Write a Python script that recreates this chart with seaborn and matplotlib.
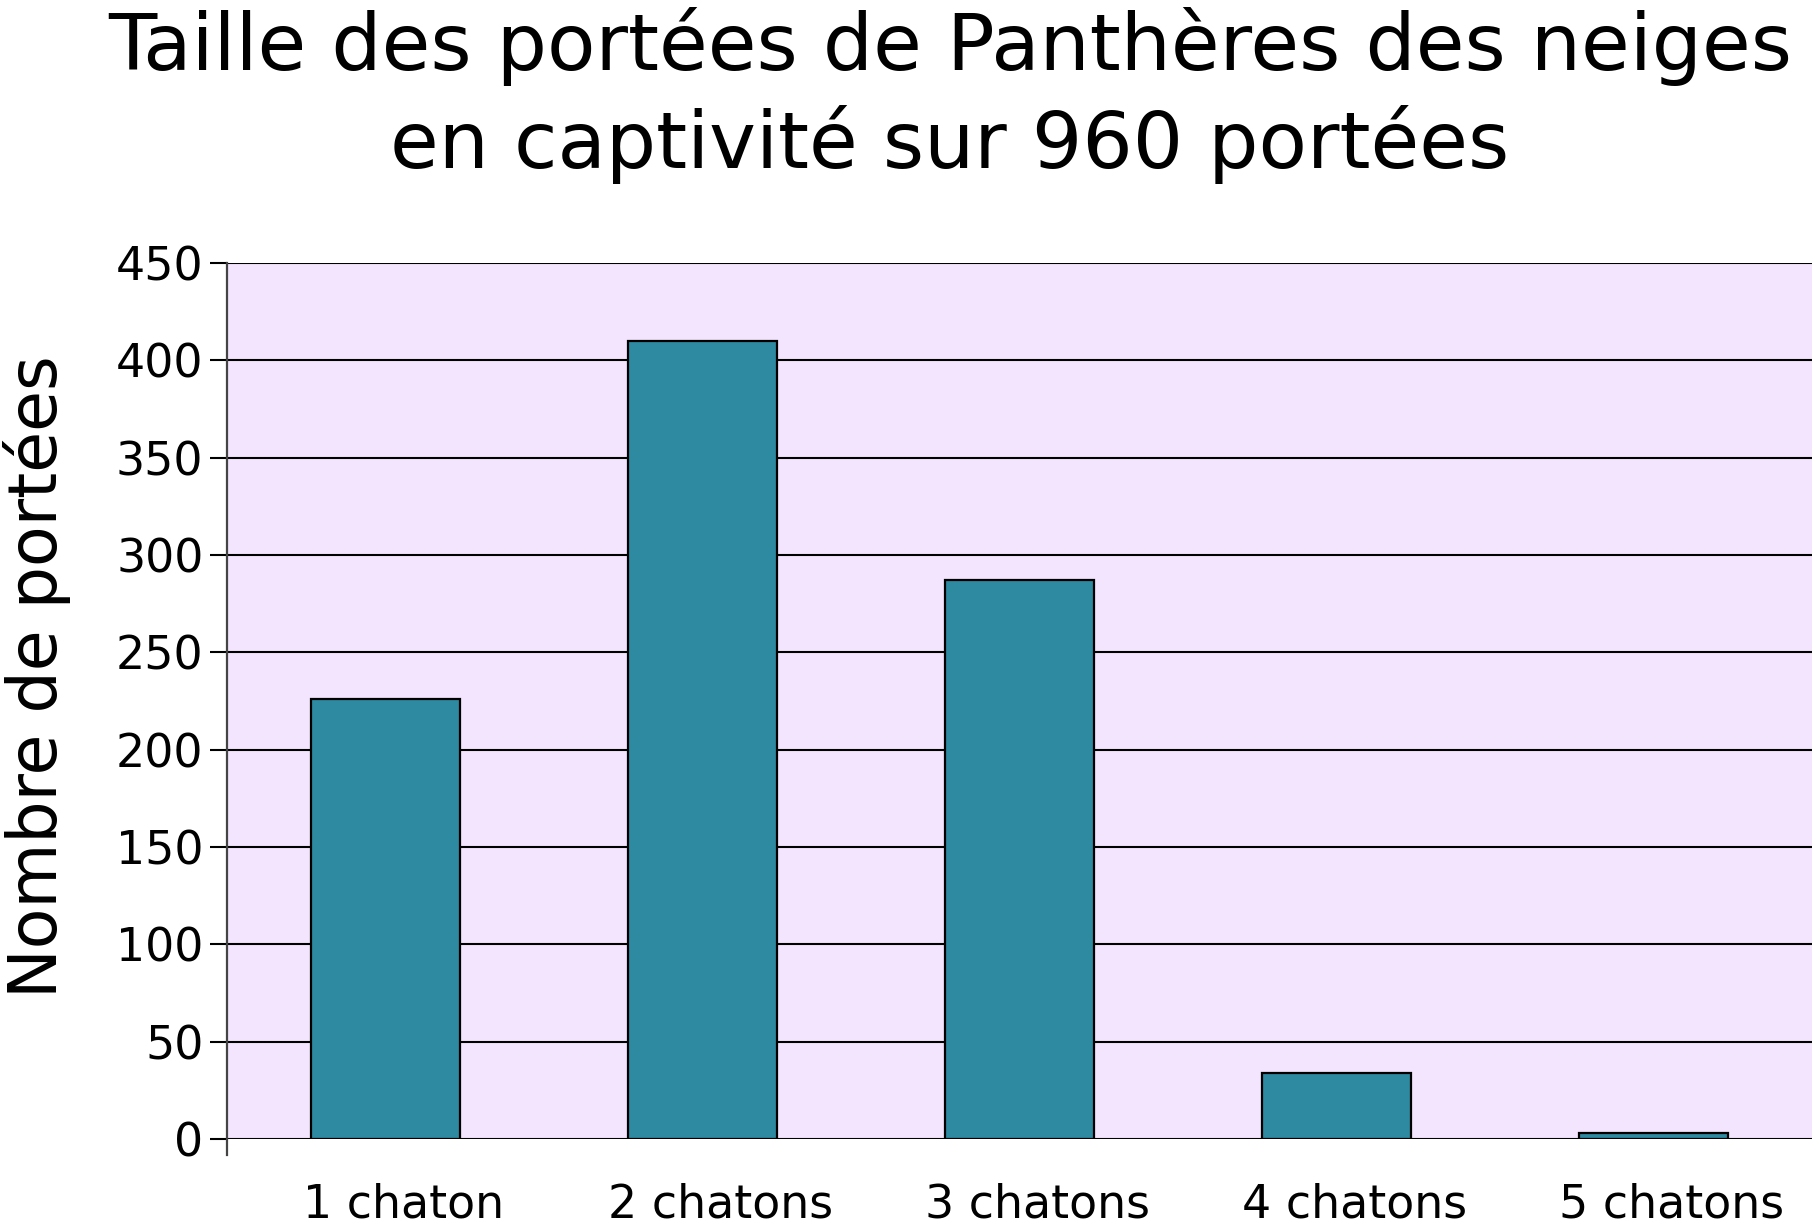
import matplotlib
matplotlib.use("Agg")
import matplotlib.pyplot as plt
import matplotlib.transforms as mtrans
import seaborn as sns

# data
categories = ["1 chaton", "2 chatons", "3 chatons", "4 chatons", "5 chatons"]
counts = [226, 410, 287, 34, 3]
y_ticks = [0, 50, 100, 150, 200, 250, 300, 350, 400, 450]

title_1 = "Taille des portées de Panthères des neiges"
title_2 = "en captivité sur 960 portées"
y_label = "Nombre de portées"

bar_color = "#2e8aa0"
bg_color = "#f3e5fd"

fig = plt.figure(figsize=(18.18, 12.27), dpi=100)
ax = fig.add_axes([0.1249, 0.0717, 0.9967 - 0.1249, 0.7857 - 0.0717])
ax.set_facecolor(bg_color)

sns.barplot(x=categories, y=counts, color=bar_color, edgecolor="black",
            linewidth=1.6, width=0.47, saturation=1, ax=ax, zorder=3)

ax.set_xlim(-0.5, 4.5)
ax.set_ylim(0, 450)
ax.set_yticks(y_ticks)
ax.set_yticklabels([str(v) for v in y_ticks], fontsize=33)
ax.yaxis.grid(True, color="black", linewidth=1.5)
ax.set_axisbelow(True)
ax.tick_params(axis="y", length=12, width=1.5, pad=5, color="black")
ax.tick_params(axis="x", length=0, pad=31, labelsize=33)

# x labels sit a bit right of the bar centres in the reference
offset = mtrans.ScaledTranslation(18 / 100, 0, fig.dpi_scale_trans)
for lab in ax.get_xticklabels():
    lab.set_transform(lab.get_transform() + offset)

for side in ["top", "right", "bottom"]:
    ax.spines[side].set_visible(False)
ax.spines["left"].set_color("#444444")
ax.spines["left"].set_linewidth(1.6)
ax.spines["left"].set_bounds(-8, 450)
ax.set_xlabel("")
ax.set_ylabel("")

fig.text(0.5226, 1 - 70 / 1227, title_1, ha="center", va="baseline", fontsize=57)
fig.text(0.5226, 1 - 168 / 1227, title_2, ha="center", va="baseline", fontsize=57)
fig.text(37 / 1818, 1 - 677 / 1227, y_label, rotation=90, ha="center", va="center",
         fontsize=48)

fig.savefig("out.png", dpi=100)
